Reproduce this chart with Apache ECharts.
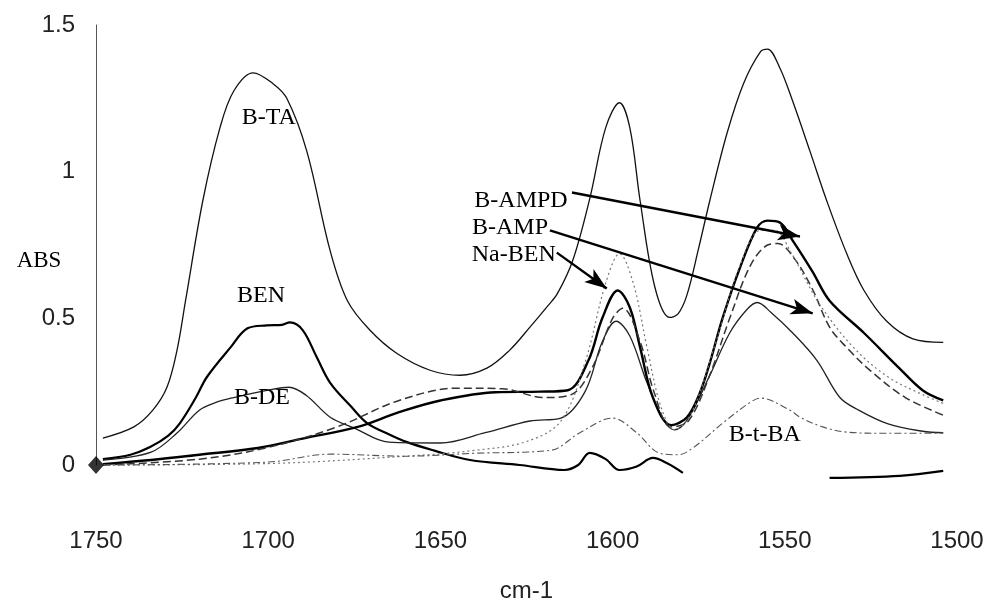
<!DOCTYPE html>
<html><head><meta charset="utf-8">
<script src="https://cdn.jsdelivr.net/npm/echarts@6/dist/echarts.min.js"></script>
<style>html,body{margin:0;padding:0;background:#fff}#c{width:991px;height:604px}</style>
</head><body><div id="c"></div>
<script>
// wavenumber (cm-1), absorbance
const xTicks = [1750, 1700, 1650, 1600, 1550, 1500];
const yTicks = [0, 0.5, 1, 1.5];

const bTA = [[1748,0.092],[1739,0.13],[1733.5,0.187],[1729.4,0.265],[1726.5,0.39],[1724,0.56],[1719,0.9],[1714,1.15],[1710,1.275],[1704.4,1.337],[1698.6,1.3],[1694.6,1.25],[1688.8,1.07],[1682,0.73],[1677,0.56],[1670.5,0.46],[1662.6,0.38],[1653,0.323],[1644.3,0.306],[1636.5,0.33],[1630,0.39],[1624,0.47],[1619,0.54],[1616,0.585],[1611.5,0.70],[1606.6,0.91],[1602,1.15],[1598,1.235],[1595,1.15],[1592,0.9],[1587.7,0.605],[1583.4,0.503],[1581,0.515],[1578.4,0.58],[1575,0.74],[1571.8,0.9],[1566.8,1.13],[1562,1.3],[1557,1.41],[1555,1.418],[1551.5,1.355],[1547.7,1.24],[1542.7,1.07],[1537.8,0.9],[1532,0.72],[1527,0.595],[1520.4,0.49],[1512.8,0.43],[1504,0.418]];

const bEN = [[1748,0.02],[1740,0.035],[1734.3,0.061],[1729,0.1],[1725.6,0.143],[1721,0.23],[1717.8,0.30],[1711,0.40],[1706,0.466],[1700.4,0.476],[1696,0.478],[1693.7,0.486],[1690,0.46],[1686,0.37],[1682,0.28],[1676,0.2],[1671.3,0.143],[1665,0.105],[1659.7,0.078],[1652,0.05],[1641.4,0.017],[1627,0.0],[1614,-0.017],[1610,0.0],[1606.6,0.041],[1602,0.02],[1598,-0.017],[1593,-0.005],[1588.3,0.024],[1584,0.005],[1579.6,-0.027],'-',[1537,-0.044],[1516.6,-0.037],[1504,-0.02]];

const bDE = [[1748,0.017],[1734,0.044],[1726.5,0.109],[1720,0.187],[1715,0.214],[1710,0.23],[1700,0.255],[1694,0.265],[1689,0.238],[1682,0.163],[1675,0.126],[1665,0.078],[1650,0.075],[1637,0.11],[1624,0.15],[1615,0.16],[1608,0.25],[1603,0.42],[1599,0.49],[1595,0.44],[1590,0.28],[1585,0.15],[1582,0.12],[1578,0.16],[1572,0.3],[1566,0.45],[1561,0.53],[1558,0.554],[1554,0.52],[1547.7,0.45],[1540.7,0.357],[1534,0.23],[1529,0.19],[1520,0.14],[1510,0.115],[1504,0.11]];

const bAMPD = [[1748,0.003],[1734,0.017],[1720,0.035],[1703,0.058],[1690,0.09],[1674,0.13],[1662,0.18],[1650,0.22],[1634,0.248],[1621,0.25],[1613,0.255],[1607,0.357],[1603,0.5],[1598.5,0.595],[1595,0.537],[1592,0.40],[1588.3,0.23],[1583,0.136],[1578.4,0.163],[1574.7,0.245],[1571.8,0.347],[1568,0.503],[1563,0.673],[1558,0.81],[1555,0.833],[1551.5,0.827],[1547.7,0.765],[1542,0.66],[1537,0.56],[1527,0.45],[1517,0.333],[1510,0.255],[1504,0.22]];

const bAMP = [[1748,0.0],[1720,0.02],[1700,0.06],[1680,0.13],[1662,0.22],[1645,0.262],[1632,0.26],[1620,0.23],[1612,0.24],[1606,0.33],[1600,0.50],[1597,0.534],[1592,0.42],[1588,0.25],[1583,0.13],[1578,0.15],[1572,0.3],[1566,0.5],[1560,0.68],[1555,0.75],[1552,0.755],[1547,0.7],[1542,0.6],[1537,0.47],[1532,0.40],[1525,0.32],[1515,0.23],[1504,0.17]];

const naBEN = [[1748,0.0],[1700,0.005],[1660,0.03],[1640,0.05],[1625,0.08],[1615,0.15],[1608,0.35],[1602,0.62],[1598,0.72],[1594,0.62],[1590,0.4],[1586,0.2],[1582,0.12],[1577,0.18],[1570,0.42],[1563,0.68],[1557,0.8],[1553,0.8],[1548,0.72],[1540,0.55],[1530,0.40],[1520,0.3],[1510,0.24],[1504,0.21]];

const bTBA = [[1748,0.0],[1700,0.01],[1682,0.037],[1660,0.03],[1640,0.04],[1618,0.05],[1609.5,0.11],[1600,0.16],[1593,0.11],[1586.3,0.04],[1581,0.035],[1576.7,0.058],[1568,0.143],[1560,0.214],[1557,0.228],[1548.5,0.187],[1545.6,0.163],[1539,0.13],[1532,0.112],[1520,0.108],[1504,0.109]];

const origin = [[1750, 0]];

// annotation labels and arrows in data units
const labelNames = ['B-TA','BEN','B-DE','B-AMPD','B-AMP','Na-BEN','B-t-BA'];
const labelAnchors = [[1699.8,1.184],[1702.1,0.578],[1701.8,0.228],[1626.6,0.901],[1629.8,0.81],[1628.7,0.718],[1555.8,0.102]];
const arrows = [
  [[1611.8,0.929],[1545.6,0.779]],
  [[1618.2,0.80],[1541.9,0.517]],
  [[1616.2,0.724],[1601.7,0.602]]
];

const chart = echarts.init(document.getElementById('c'), null, {renderer:'canvas'});
function line(name, data, style) {
  return {type:'line', name, data, smooth:0.35, showSymbol:false, symbol:'none', clip:false,
    connectNulls:false, lineStyle:style, z:3, animation:false};
}
const option = {
  animation:false,
  backgroundColor:'#fff',
  grid:{left:96, right:34, top:25, bottom:139, containLabel:false, outerBoundsMode:'none'},
  xAxis:{type:'value', min:1500, max:1750, interval:50, inverse:true,
    name:'cm-1', nameLocation:'middle', nameGap:114,
    nameTextStyle:{fontFamily:'Liberation Sans', fontSize:24, color:'#222'},
    axisLine:{show:false}, axisTick:{show:false}, splitLine:{show:false},
    axisLabel:{margin:64, fontFamily:'Liberation Sans', fontSize:24, color:'#222',
      formatter:v=>xTicks.includes(v)?String(v):''}},
  yAxis:{type:'value', min:0, max:1.5, interval:0.5,
    axisLine:{show:true, lineStyle:{color:'#555', width:1}}, axisTick:{show:false}, splitLine:{show:false},
    axisLabel:{margin:21, fontFamily:'Liberation Sans', fontSize:24, color:'#222',
      formatter:v=>yTicks.includes(v)?String(v):''}},
  series:[
    line('B-TA', bTA, {color:'#111', width:1.3}),
    line('BEN', bEN, {color:'#000', width:2.2}),
    line('B-DE', bDE, {color:'#222', width:1.3}),
    line('B-AMPD', bAMPD, {color:'#000', width:2.4}),
    line('B-AMP', bAMP, {color:'#333', width:1.5, type:[8,4]}),
    line('Na-BEN', naBEN, {color:'#777', width:1.2, type:[2,3]}),
    line('B-t-BA', bTBA, {color:'#555', width:1.1, type:[7,3,2,3]}),
    {type:'scatter', name:'origin', data:origin, symbol:'diamond', symbolSize:[16,18],
     itemStyle:{color:'#000'}, z:5, animation:false, clip:false},
    {type:'line', name:'arrows', data:[], animation:false, markLine:{
      silent:true, symbol:['none','arrow'], symbolSize:[12,22], animation:false,
      label:{show:false}, lineStyle:{color:'#000', width:2.4, type:'solid'},
      data: arrows.map(a=>[{coord:a[0]},{coord:a[1]}])
    }}
  ]
};
chart.setOption(option);
const g = labelNames.map((n,i)=>{
  const p = chart.convertToPixel({gridIndex:0}, labelAnchors[i]);
  return {type:'text', x:p[0], y:p[1], z:10, style:{text:n, fill:'#000',
    font:'24px "Liberation Serif", "Times New Roman", serif', align:'center', verticalAlign:'middle'}};
});
g.push({type:'text', x:39, y:261, style:{text:'ABS', fill:'#000', font:'23px "Liberation Serif", serif', align:'center', verticalAlign:'middle'}});
chart.setOption({graphic:g});
</script></body></html>
